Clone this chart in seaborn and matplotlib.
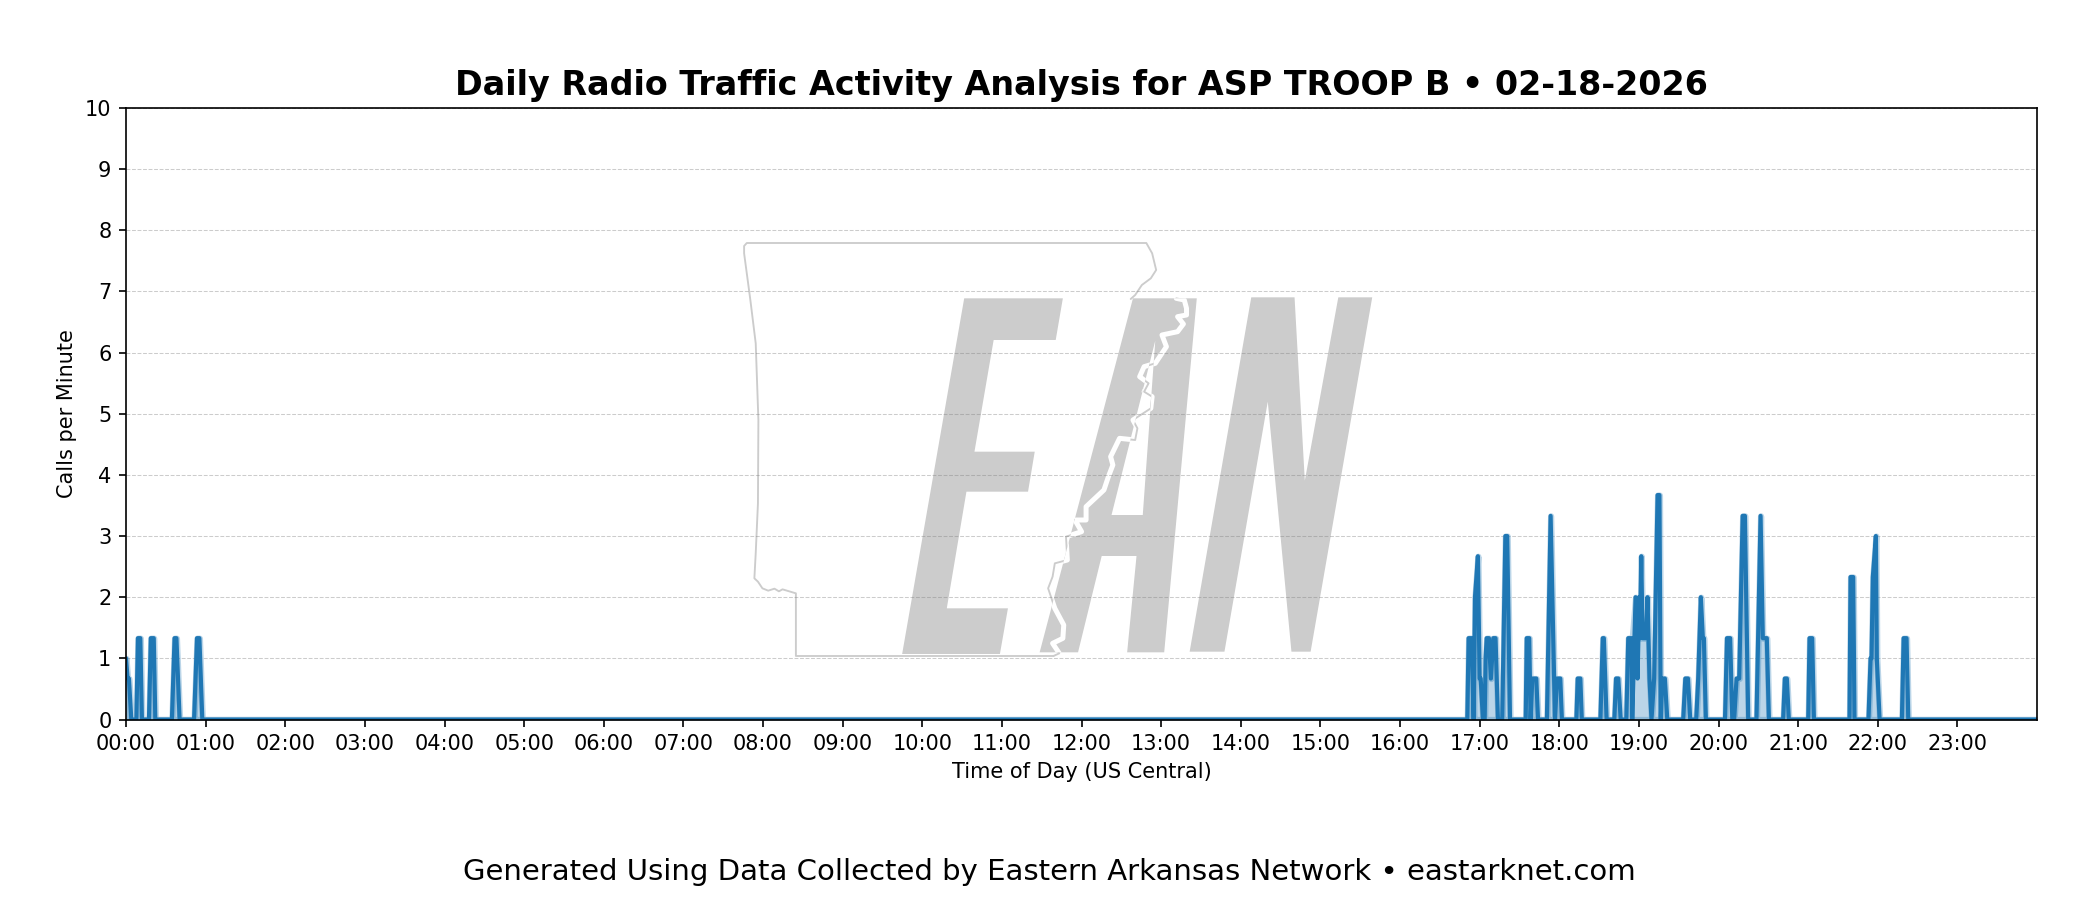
#importing
import numpy as np
import matplotlib
matplotlib.use("Agg")
import matplotlib.pyplot as plt
from matplotlib.patches import Polygon, PathPatch
from matplotlib.path import Path
import seaborn as sns

#data - minutes after midnight, calls per minute
early_minutes = [0, 1.2, 2.2, 4, 7.8, 9, 10.8, 12, 17.3, 18.7, 20.9, 22.1, 34.6, 36.6, 38, 40.4, 51.3, 53.5, 55.3, 57.5]
early_calls = [1.0, 0.67, 0.67, 0, 0, 1.33, 1.33, 0, 0, 1.33, 1.33, 0, 0, 1.33, 1.33, 0, 0, 1.33, 1.33, 0]

evening_minutes = [1010.7, 1011.7, 1014, 1015.5, 1016.5, 1018.7, 1020, 1020.8, 1022.5,
                   1023.8, 1024.5, 1025.3, 1027, 1028.5, 1030.3, 1032, 1033.8,
                   1037, 1039.4, 1040.8, 1042.9,
                   1054.7, 1055.5, 1057.4, 1058.4, 1059.7, 1062.7, 1064,
                   1070.7, 1073.5, 1076.8, 1078.3, 1080.8, 1082,
                   1092.9, 1093.9, 1095.9, 1097,
                   1111, 1112.8, 1113.6, 1115.7,
                   1121.5, 1122.8, 1124.5, 1126.3,
                   1130.5, 1132, 1134.5, 1135, 1137.5, 1139, 1140.3, 1140.8, 1141.8, 1142.8, 1145.3,
                   1146.5, 1148, 1149.5, 1151.5, 1154.1, 1155.5, 1156.5, 1157.6, 1159.6, 1161.4,
                   1173.4, 1175, 1177, 1178.7,
                   1183.2, 1184.7, 1186.7, 1188.2, 1189, 1190.5,
                   1204.9, 1206.4, 1208.8, 1210.4,
                   1211.8, 1213.6, 1215.6, 1218.2, 1219.9, 1222.4,
                   1228.6, 1231.7, 1233.4, 1236.4, 1238,
                   1248.7, 1250, 1251.5, 1253,
                   1267.6, 1268.6, 1270.6, 1271.9,
                   1298.7, 1299.5, 1301.5, 1302.5,
                   1313, 1314.6, 1315.3, 1316.3, 1318.6, 1319.3, 1321.4,
                   1338.2, 1339.5, 1341.7, 1343, 1440]
evening_calls = [0, 1.33, 1.33, 0, 2.0, 2.67, 0.67, 0.67, 0,
                 0, 1.0, 1.33, 1.33, 0.67, 1.33, 1.33, 0,
                 0, 3.0, 3.0, 0,
                 0, 1.33, 1.33, 0, 0.67, 0.67, 0,
                 0, 3.33, 0, 0.67, 0.67, 0,
                 0, 0.67, 0.67, 0,
                 0, 1.33, 1.33, 0,
                 0, 0.67, 0.67, 0,
                 0, 1.33, 1.33, 0, 2.0, 0.67, 2.0, 1.33, 2.67, 1.33, 1.33,
                 2.0, 0.67, 0, 0.67, 3.67, 3.67, 0, 0.67, 0.67, 0,
                 0, 0.67, 0.67, 0,
                 0, 0.67, 2.0, 1.33, 1.33, 0,
                 0, 1.33, 1.33, 0,
                 0, 0.67, 0.67, 3.33, 3.33, 0,
                 0, 3.33, 1.33, 1.33, 0,
                 0, 0.67, 0.67, 0,
                 0, 1.33, 1.33, 0,
                 0, 2.33, 2.33, 0,
                 0, 1.0, 1.0, 2.33, 3.0, 1.0, 0,
                 0, 1.33, 1.33, 0, 0]

#shaded plateau under the busy stretch just after 19:00
plateau_start = 1135
plateau_end = 1146
plateau_calls = 1.33

hour_labels = [f"{h:02d}:00" for h in range(24)]

letter_e = [(547, 235), (768, 235), (752, 360), (613, 360), (570, 695), (705, 695), (690, 815), (552, 815),
            (508, 1165), (645, 1165), (627, 1302), (408, 1302)]
letter_a = [(925, 235), (1068, 235), (995, 1297), (912, 1297), (933, 1008), (855, 1008), (802, 1297), (716, 1297)]
letter_a_hole = [(975, 362), (947, 885), (877, 885)]
letter_n = [(1190, 232), (1287, 232), (1310, 782), (1385, 232), (1461, 232), (1323, 1295), (1280, 1295),
            (1227, 545), (1130, 1295), (1052, 1295)]
state_west = [(747, 1308), (170, 1308), (170, 1120), (150, 1112), (140, 1108), (132, 1114), (122, 1106), (108, 1112),
              (95, 1105), (85, 1085), (77, 1075), (80, 1000), (85, 850), (86, 600), (80, 370), (68, 240), (54, 100),
              (54, 78), (60, 69), (955, 69), (968, 100), (977, 150), (965, 175), (945, 195), (930, 225), (920, 237)]
state_river = [(1022, 235), (1040, 240), (1045, 265), (1045, 285), (1025, 290), (1038, 312), (1025, 335), (990, 345),
               (1000, 380), (985, 410), (975, 430), (950, 440), (940, 470), (960, 490), (950, 515), (968, 530),
               (965, 565), (925, 600), (935, 625), (930, 660), (895, 655), (875, 710), (880, 735), (870, 770),
               (860, 810), (820, 860), (820, 900), (795, 900), (810, 935), (775, 950), (778, 1020), (750, 1030),
               (745, 1070), (735, 1105), (750, 1165), (770, 1215), (768, 1255), (745, 1270), (760, 1300), (747, 1308)]

sns.set_style("white")
plt.rcParams['font.family'] = ['DejaVu Sans']
plt.rcParams['text.color'] = 'black'
plt.rcParams['axes.labelcolor'] = 'black'
plt.rcParams['xtick.color'] = 'black'
plt.rcParams['ytick.color'] = 'black'

fig = plt.figure(figsize=(14, 6), dpi=150)

#watermark goes in its own axes under the chart
logo = fig.add_axes([720 / 2100, 1 - 680 / 900, 700 / 2100, 460 / 900], zorder=0)
logo.set_xlim(0, 1568)
logo.set_ylim(1380, 0)
logo.axis("off")
grey = "#cccccc"
logo.add_patch(Polygon(letter_e, closed=True, fc=grey, ec="none"))
logo.add_patch(Polygon(letter_n, closed=True, fc=grey, ec="none"))
a_path = Path(letter_a + [letter_a[0]] + letter_a_hole[::-1] + [letter_a_hole[-1]],
              [Path.MOVETO] + [Path.LINETO] * (len(letter_a) - 1) + [Path.CLOSEPOLY]
              + [Path.MOVETO] + [Path.LINETO] * 2 + [Path.CLOSEPOLY])
a_patch = PathPatch(a_path, fc=grey, ec="none")
logo.add_patch(a_patch)
wx, wy = zip(*state_west)
rx, ry = zip(*state_river)
logo.plot(wx, wy, color=grey, lw=0.9, solid_joinstyle="round")
logo.plot(rx, ry, color=grey, lw=0.9, solid_joinstyle="round")
river_cut, = logo.plot(rx, ry, color="white", lw=2.4, solid_joinstyle="round")
river_cut.set_clip_path(a_patch)

#main chart
ax = fig.add_axes([126 / 2100, 1 - 719.5 / 900, 1911 / 2100, 611.5 / 900], zorder=1)
ax.patch.set_alpha(0)

minutes = np.array(early_minutes + evening_minutes)
calls = np.array(early_calls + evening_calls)
in_plateau = (minutes >= plateau_start) & (minutes <= plateau_end)
shaded = np.where(in_plateau, np.maximum(calls, plateau_calls), calls)

ax.fill_between(minutes, shaded, 0, color="#1f77b4", alpha=0.3, lw=3, joinstyle="round")
line_ax = sns.lineplot(x=minutes, y=calls, ax=ax, color="#1f77b4", lw=2, estimator=None, sort=False, errorbar=None)
line_ax.lines[-1].set_solid_joinstyle("round")
line_ax.lines[-1].set_solid_capstyle("round")

ax.set_xlim(0, 1440)
ax.set_ylim(0, 10)
ax.set_xticks(np.arange(0, 1440, 60))
ax.set_xticklabels(hour_labels)
ax.set_yticks(range(0, 11))
ax.tick_params(axis="both", length=3.5, width=0.8, labelsize=10, color="black", bottom=True, left=True)
ax.grid(axis="y", ls="--", lw=0.5, color="gray", alpha=0.4)
ax.grid(axis="x", visible=False)
for s in ax.spines.values():
    s.set_visible(True)
    s.set_color("black")
    s.set_linewidth(0.8)

ax.set_xlabel("Time of Day (US Central)", fontsize=10)
ax.set_ylabel("Calls per Minute", fontsize=10)
ax.set_title("Daily Radio Traffic Activity Analysis for ASP TROOP B • 02-18-2026", fontsize=16, fontweight="bold")
fig.text(0.4995, 0.0315, "Generated Using Data Collected by Eastern Arkansas Network • eastarknet.com",
         ha="center", va="center", fontsize=14)

plt.savefig("out.png", dpi=150)
